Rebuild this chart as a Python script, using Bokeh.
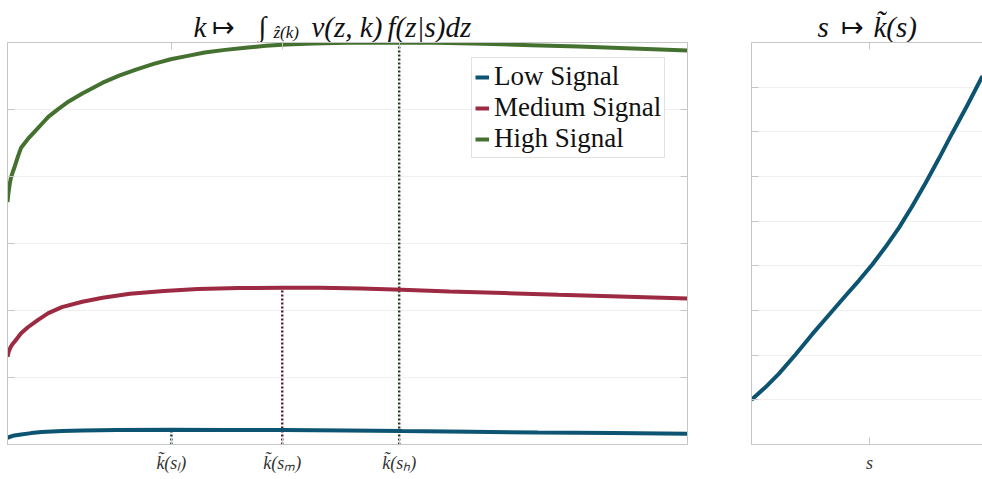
from bokeh.plotting import figure
from bokeh.layouts import row, column
from bokeh.models import (LinearAxis, FixedTicker, Grid, Legend, LegendItem,
                          CustomLabelingPolicy, Range1d)
from bokeh.core.properties import value
from bokeh.embed import file_html
from bokeh.resources import INLINE

# ---- data ----
k_high = [0, 0.01, 0.02, 0.035, 0.05, 0.075, 0.1, 0.15, 0.2, 0.3, 0.4, 0.5, 0.6, 0.75, 0.9, 1.1, 1.4,
          1.65, 1.9, 2.15, 2.4, 2.65, 2.9, 3.2, 3.5, 3.8, 4.1, 4.5, 5.0, 5.76, 6.3, 7.0, 7.7, 8.4, 9.2, 10]
v_high = [3.62, 3.72, 3.80, 3.90, 3.98, 4.06, 4.13, 4.29, 4.43, 4.56, 4.67, 4.78, 4.89, 5.01, 5.12, 5.24,
          5.40, 5.51, 5.60, 5.68, 5.75, 5.80, 5.85, 5.89, 5.92, 5.95, 5.97, 5.985, 5.995, 6.00, 5.995,
          5.98, 5.96, 5.94, 5.91, 5.88]

k_med = [0, 0.01, 0.02, 0.035, 0.05, 0.075, 0.1, 0.2, 0.3, 0.45, 0.6, 0.8, 1.1, 1.4, 1.8, 2.3, 2.8,
         3.4, 4.04, 4.6, 5.2, 5.8, 6.5, 7.3, 8.1, 9.0, 10]
v_med = [1.31, 1.35, 1.39, 1.43, 1.46, 1.50, 1.53, 1.66, 1.75, 1.86, 1.96, 2.05, 2.13, 2.19, 2.25,
         2.29, 2.32, 2.335, 2.34, 2.338, 2.33, 2.31, 2.285, 2.26, 2.235, 2.21, 2.18]

k_low = [0, 0.05, 0.1, 0.2, 0.35, 0.5, 0.8, 1.1, 1.6, 2.41, 3.2, 4.04, 5.0, 5.8, 6.8, 7.8, 8.9, 10]
v_low = [0.10, 0.12, 0.135, 0.15, 0.17, 0.185, 0.20, 0.21, 0.215, 0.22, 0.218, 0.215, 0.21, 0.20,
         0.19, 0.18, 0.17, 0.16]

k_peak = [2.41, 4.04, 5.76]
v_peak = [0.22, 2.34, 6.00]
peak_labels = ["k\u0303(s\u2097)", "k\u0303(s\u2098)", "k\u0303(s\u2095)"]
series_names = ["Low Signal", "Medium Signal", "High Signal"]

s_vals = [0, 0.06, 0.118, 0.19, 0.263, 0.335, 0.407, 0.465, 0.523, 0.58, 0.638, 0.695, 0.753,
          0.81, 0.869, 0.935, 1.0]
ks_vals = [1.0, 1.28, 1.58, 2.01, 2.47, 2.90, 3.33, 3.67, 4.03, 4.42, 4.85, 5.33, 5.85,
           6.39, 6.97, 7.60, 8.25]
s_tick = [0.511]
s_tick_label = ["s"]

left_yticks = [0, 1, 2, 3, 4, 5, 6]
right_yticks = [0, 1, 2, 3, 4, 5, 6, 7, 8, 9]

# title pieces: k |-> \int_{z^(k)} v(z,k) f(z|s) dz   and   s |-> k~(s)
title_left = ["k", "\u21a6", "\u222b", "z\u0302(k)", "v(z, k)", "f(z|s)dz"]
title_right = ["s", "\u21a6", "k\u0303(s)"]

# ---- styles ----
C_LOW, C_MED, C_HIGH = "#0C5472", "#9C2A42", "#44712F"
D_LOW, D_MED, D_HIGH = "#143C50", "#5E1C2C", "#253C1E"
FRAME = "#c6c6c6"
GRID = "#efefef"
SERIF = "Liberation Serif"
INK = "#111111"


def add_axis(p, place, ticks, overrides=None, show=False):
    ax = LinearAxis(ticker=FixedTicker(ticks=ticks), major_tick_in=7, major_tick_out=0,
                    minor_tick_line_color=None, axis_line_color=FRAME,
                    major_tick_line_color=FRAME, major_tick_line_width=1)
    if show:
        ax.major_label_overrides = overrides
        ax.major_label_text_font = SERIF
        ax.major_label_text_font_style = "italic"
        ax.major_label_text_font_size = "18px"
        ax.major_label_text_color = "#333333"
        ax.major_label_standoff = 8
    else:
        ax.major_label_policy = CustomLabelingPolicy(code="return []")
        ax.major_label_text_font_size = "0px"
        ax.major_label_standoff = 0
    p.add_layout(ax, place)


def base_fig(width, xr, yr, bl, br):
    p = figure(width=width, height=437, x_range=xr, y_range=yr,
               output_backend="svg", toolbar_location=None,
               x_axis_location=None, y_axis_location=None,
               min_border_left=bl, min_border_right=br, min_border_top=0, min_border_bottom=35)
    p.xgrid.grid_line_color = None
    p.ygrid.grid_line_color = None
    return p


# ---- left figure ----
p1 = base_fig(720, (0, 10), (0, 6), 7, 33)
p1.outline_line_color = FRAME
p1.add_layout(Grid(dimension=1, ticker=FixedTicker(ticks=left_yticks), grid_line_color=GRID))
add_axis(p1, "left", left_yticks)
add_axis(p1, "right", left_yticks)
add_axis(p1, "above", k_peak)
add_axis(p1, "below", k_peak, dict(zip(k_peak, peak_labels)), show=True)

p1.segment(x0=k_peak, y0=[0, 0, 0], x1=k_peak, y1=v_peak,
           line_color=[D_LOW, D_MED, D_HIGH], line_width=2.5, line_dash="2 2")

r_low = p1.line(k_low, v_low, line_color=C_LOW, line_width=4)
r_med = p1.line(k_med, v_med, line_color=C_MED, line_width=4)
r_high = p1.line(k_high, v_high, line_color=C_HIGH, line_width=4)

legend = Legend(items=[LegendItem(label=series_names[0], renderers=[r_low]),
                       LegendItem(label=series_names[1], renderers=[r_med]),
                       LegendItem(label=series_names[2], renderers=[r_high])],
                location=(464, 286), label_text_font=SERIF, label_text_font_size="27px",
                label_text_color=INK,
                glyph_width=14, glyph_height=20, label_height=28, spacing=0, padding=3,
                margin=0, label_standoff=5, border_line_color=FRAME, border_line_width=1)
p1.add_layout(legend, "center")

# ---- right figure ----
p2 = base_fig(262, (0, 1), (0, 9), 31, 0)
p2.outline_line_color = None
p2.add_layout(Grid(dimension=1, ticker=FixedTicker(ticks=right_yticks), grid_line_color=GRID))
add_axis(p2, "left", right_yticks)
add_axis(p2, "above", s_tick)
add_axis(p2, "below", s_tick, dict(zip(s_tick, s_tick_label)), show=True)

p2.line(s_vals, ks_vals, line_color=C_LOW, line_width=4)

# ---- title strip (pixel coordinates) ----
pt = figure(width=982, height=42, x_range=Range1d(0, 982), y_range=Range1d(42, 0),
            output_backend="svg", toolbar_location=None,
            x_axis_location=None, y_axis_location=None,
            min_border_left=0, min_border_right=0, min_border_top=0, min_border_bottom=0)
pt.outline_line_color = None
pt.xgrid.grid_line_color = None
pt.ygrid.grid_line_color = None


def ttext(x, y, s, size, align="left", style="italic"):
    pt.text(x=[x], y=[y], text=[s], text_font=value(SERIF), text_font_style=style,
            text_font_size=size, text_align=align, text_baseline="alphabetic", text_color=INK)


ttext(193, 26, title_left[0], "29px")
ttext(223, 26, title_left[1], "27px", align="center", style="normal")
ttext(258, 26, title_left[2], "28px", style="normal")
ttext(273, 32, title_left[3], "17px")
ttext(311, 26, title_left[4], "29px")
ttext(387, 26, title_left[5], "29px")

ttext(817, 26, title_right[0], "29px")
ttext(852, 26, title_right[1], "27px", align="center", style="normal")
ttext(873, 26, title_right[2], "29px")

layout = column(pt, row(p1, p2))
open("out.html", "w").write(file_html(layout, INLINE))
